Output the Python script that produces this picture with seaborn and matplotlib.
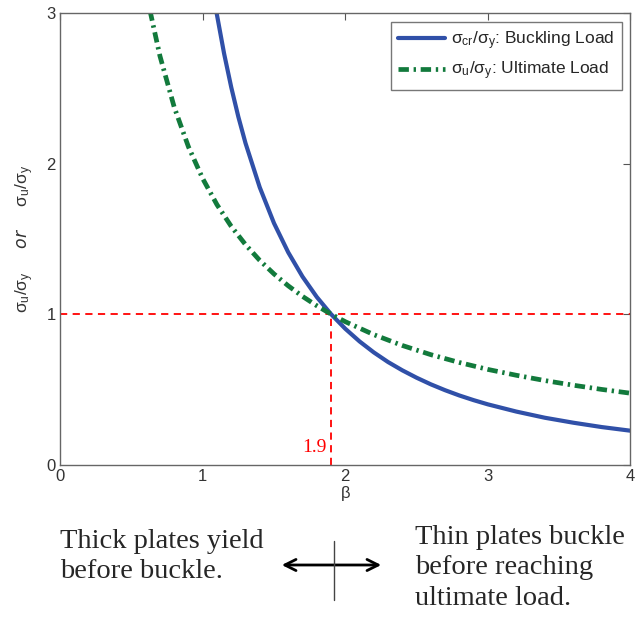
import pandas as pd
import matplotlib
matplotlib.use("Agg")
import matplotlib.pyplot as plt
import seaborn as sns
from matplotlib.patches import FancyArrowPatch
from matplotlib.lines import Line2D

# Values
beta_cr = [1.09, 1.15, 1.2, 1.25, 1.3, 1.4, 1.5, 1.6, 1.7, 1.8, 1.9, 2.0, 2.1, 2.2, 2.3,
           2.4, 2.5, 2.6, 2.7, 2.8, 2.9, 3.0, 3.2, 3.4, 3.6, 3.8, 4.0]
sigma_cr = [3.038, 2.730, 2.507, 2.310, 2.136, 1.842, 1.604, 1.410, 1.249, 1.114, 1.000,
            0.903, 0.819, 0.746, 0.682, 0.627, 0.578, 0.534, 0.495, 0.460, 0.429, 0.401,
            0.353, 0.312, 0.279, 0.250, 0.226]

beta_u = [0.63, 0.7, 0.8, 0.9, 1.0, 1.1, 1.2, 1.3, 1.4, 1.5, 1.6, 1.7, 1.8, 1.9, 2.0,
          2.2, 2.4, 2.6, 2.8, 3.0, 3.2, 3.4, 3.6, 3.8, 4.0]
sigma_u = [3.016, 2.714, 2.375, 2.111, 1.900, 1.727, 1.583, 1.462, 1.357, 1.267, 1.188,
           1.118, 1.056, 1.000, 0.950, 0.864, 0.792, 0.731, 0.679, 0.633, 0.594, 0.559,
           0.528, 0.500, 0.475]

beta_cross = 1.9
x_ticks = [0, 1, 2, 3, 4]
y_ticks = [0, 1, 2, 3]

df_cr = pd.DataFrame({"beta": beta_cr, "ratio": sigma_cr})
df_u = pd.DataFrame({"beta": beta_u, "ratio": sigma_u})

sns.set_style("white")
plt.rcParams["font.family"] = ["Liberation Sans", "DejaVu Sans"]
plt.rcParams["mathtext.default"] = "regular"

fig = plt.figure(figsize=(6.4, 6.18), dpi=100)
ax = fig.add_axes([0.094, 0.248, 0.891, 0.731])

sns.lineplot(data=df_cr, x="beta", y="ratio", ax=ax, color="#3050a8", lw=3.0,
             sort=False, label=r"$\sigma_{cr}/\sigma_y$: Buckling Load")
sns.lineplot(data=df_u, x="beta", y="ratio", ax=ax, color="#127a3c", lw=3.4,
             linestyle=(0, (2.2, 1.0, 0.5, 1.0)), sort=False,
             label=r"$\sigma_u/\sigma_y$: Ultimate Load")

# red guide lines
ax.axhline(1, color="red", lw=1.3, ls=(0, (4, 3)), zorder=1)
ax.plot([beta_cross, beta_cross], [0, 1], color="red", lw=1.3, ls=(0, (4, 3)), zorder=1)
ax.text(beta_cross - 0.03, 0.06, "1.9", color="red", ha="right", va="bottom",
        fontsize=14, family=["Liberation Serif", "DejaVu Serif"])

ax.set_xlim(0, 4)
ax.set_ylim(0, 3)
ax.set_xticks(x_ticks)
ax.set_yticks(y_ticks)
ax.tick_params(direction="in", length=5, color="#555555", labelsize=12,
               labelcolor="#333333", top=True, right=True, pad=3)
for s in ax.spines.values():
    s.set_color("#666666")
    s.set_linewidth(1.0)

ax.set_xlabel(r"$\beta$", fontsize=12, color="#333333", labelpad=0)
ax.set_ylabel(r"$\sigma_u/\sigma_y$     $\mathit{or}$     $\sigma_u/\sigma_y$", fontsize=12.5,
              color="#333333", labelpad=8)

leg = ax.legend(loc="upper right", fontsize=12.5, frameon=True, fancybox=False,
                handlelength=2.7, handletextpad=0.3, borderpad=0.45, labelspacing=0.45,
                borderaxespad=0.5)
leg.get_frame().set_edgecolor("#555555")
leg.get_frame().set_linewidth(1.0)

# explanation below the axes
serif = ["Liberation Serif", "DejaVu Serif"]
fig.text(60 / 640, 1 - 529 / 618, "Thick plates yield\nbefore buckle.", fontsize=20.5,
         family=serif, ha="left", va="top", linespacing=1.28)
fig.text(415 / 640, 1 - 525 / 618, "Thin plates buckle\nbefore reaching\nultimate load.",
         fontsize=20.5, family=serif, ha="left", va="top", linespacing=1.28)
fig.add_artist(FancyArrowPatch(
    (279 / 640, 1 - 565 / 618), (384 / 640, 1 - 565 / 618), transform=fig.transFigure,
    arrowstyle="<->", mutation_scale=20, lw=2.0, color="black"))
fig.add_artist(Line2D([334 / 640, 334 / 640], [1 - 541 / 618, 1 - 600 / 618],
                      transform=fig.transFigure, color="#444444", lw=1))

fig.savefig("out.png", dpi=100)
